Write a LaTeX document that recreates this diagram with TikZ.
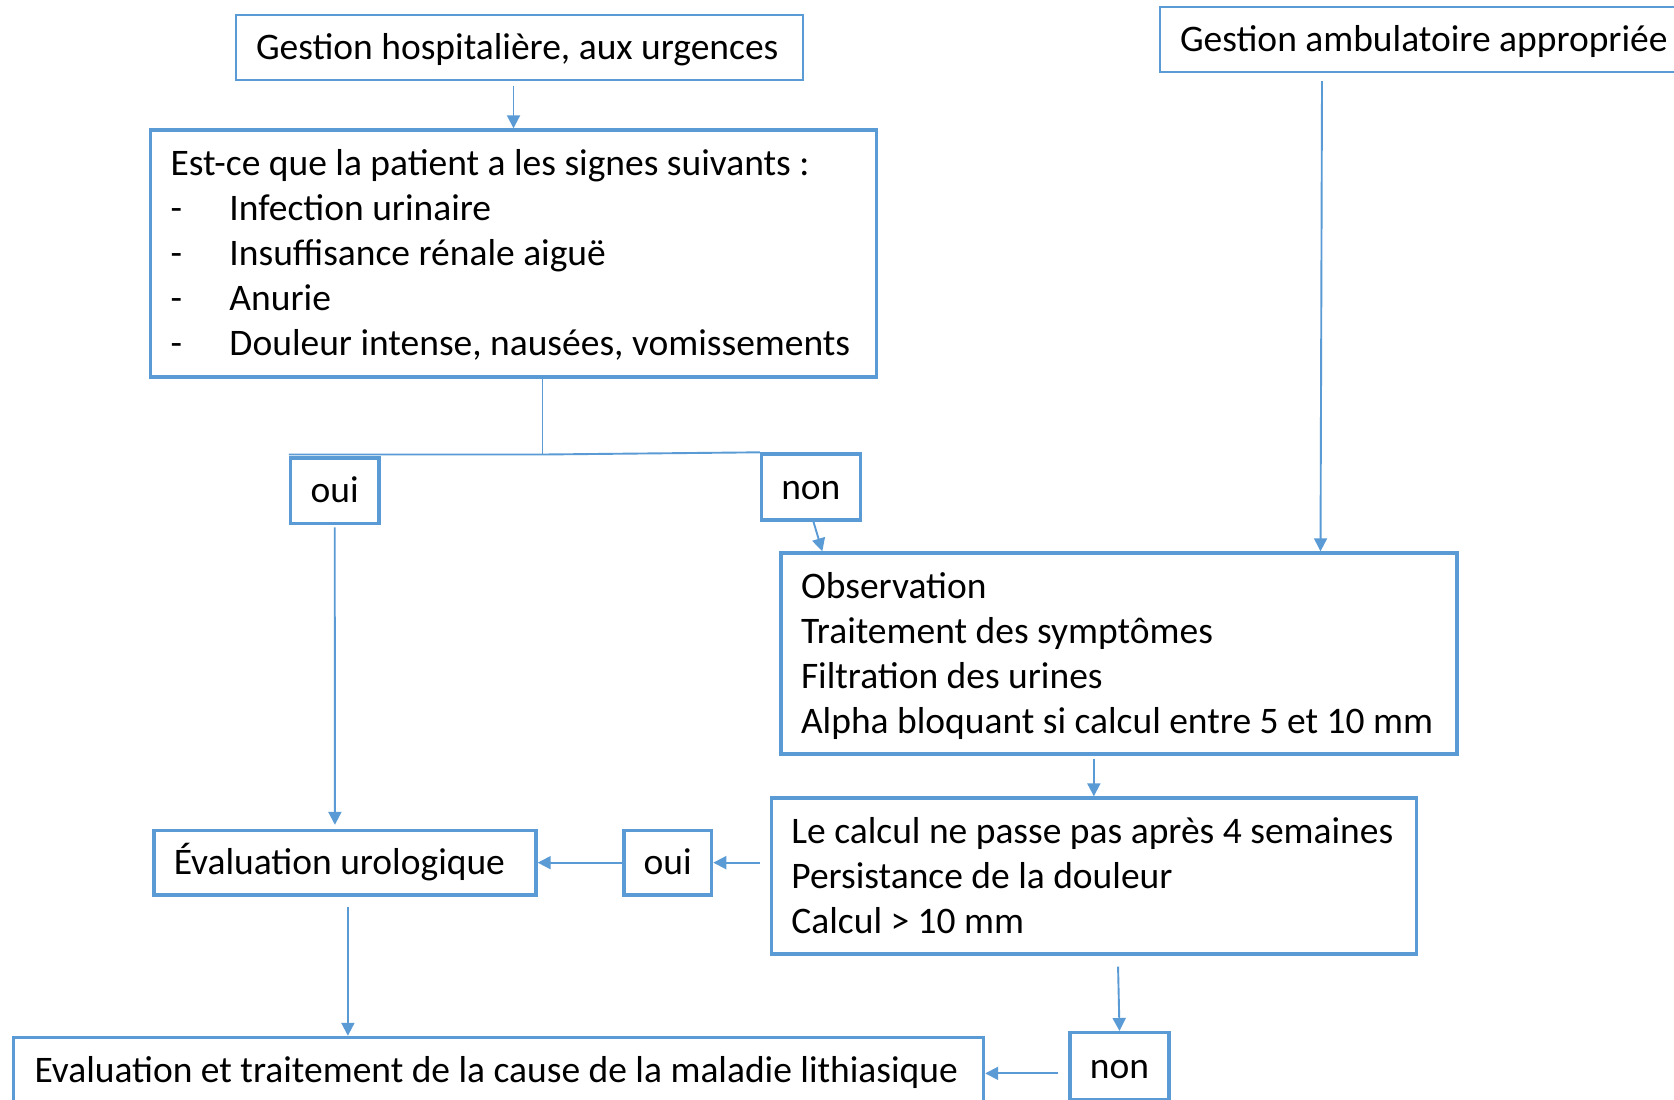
\documentclass[tikz,border=0pt]{standalone}
\usepackage{fontspec}
\setmainfont{Carlito}
\usetikzlibrary{arrows.meta,calc}
\definecolor{bl}{HTML}{5B9BD5}
\newcommand\myline[1]{\mbox{\smash{#1}}}
\newcommand\nsp{\spaceskip=0pt\relax\xspaceskip=0pt\relax}
\begin{document}
\begin{tikzpicture}[x=0.5pt,y=-0.5pt,
  every node/.style={font=\fontsize{18.75pt}{22.5pt}\selectfont, text=black},
  boxthin/.style={draw=bl, line width=1pt, rectangle, inner sep=0pt},
  boxthick/.style={draw=bl, line width=1.7pt, rectangle, inner sep=0pt},
  one/.style={text height=12.07pt, text depth=0pt},
  multi/.style={align=left},
  conn/.style={draw=bl, line width=0.95pt},
  arr/.style={conn, -{Triangle[width=6.5pt,length=6.5pt]}},
]
\useasboundingbox (0,0) rectangle (1674,1099);
\clip (0,0) rectangle (1674,1099);
\fill[white] (0,0) rectangle (1674,1099);

% nodes
\node[boxthin, one, multi, minimum width=283.5pt, minimum height=32.5pt, text width=263.5pt] (h1) at (519.5,47.5) {\nsp\mbox{Gestion hospitalière, aux urgences}};
\node[boxthin, one, multi, minimum width=263pt, minimum height=32.5pt, text width=243pt] (amb) at (1423,39) {\nsp\mbox{Gestion ambulatoire appropriée}};
\node[boxthick, multi, minimum width=363pt, minimum height=123.5pt, text width=343pt] (q) at (513.5,253.5)
  {\nsp\rule{0pt}{12.07pt}\myline{Est-ce que la patient a les signes suivants :}\\
   \myline{\makebox[29.5pt][l]{-}Infection urinaire}\\
   \myline{\makebox[29.5pt][l]{-}Insuffisance rénale aiguë}\\
   \myline{\makebox[29.5pt][l]{-}Anurie}\\
   \myline{\makebox[29.5pt][l]{-}Douleur intense, nausées, vomissements}};
\node[boxthick, one, minimum width=44.25pt, minimum height=32.85pt] (oui1) at (334.75,490.85) {oui};
\node[boxthick, one, minimum width=49.35pt, minimum height=33pt] (non1) at (810.85,487) {non};
\node[boxthick, multi, minimum width=337.9pt, minimum height=100.5pt, text width=317.9pt] (obs) at (1118.9,653.5)
  {\nsp\rule{0pt}{12.07pt}\myline{Observation}\\
   \myline{Traitement des symptômes}\\
   \myline{Filtration des urines}\\
   \myline{Alpha bloquant si calcul entre 5 et 10 mm}};
\node[boxthick, multi, minimum width=322.45pt, minimum height=78pt, text width=302.45pt] (calc) at (1093.85,876)
  {\nsp\rule{0pt}{12.07pt}\myline{Le calcul ne passe pas après 4 semaines}\\
   \myline{Persistance de la douleur}\\
   \myline{Calcul > 10 mm}};
\node[boxthick, one, multi, minimum width=191.1pt, minimum height=32.15pt, text width=171.1pt] (eval) at (344.9,862.65) {\nsp\mbox{Évaluation urologique}};
\node[boxthick, one, minimum width=43.9pt, minimum height=32.15pt] (oui2) at (667.7,862.65) {oui};
\node[boxthick, one, multi, minimum width=485pt, minimum height=32.5pt, text width=464pt] (bot) at (498.5,1070) {\nsp\mbox{Evaluation et traitement de la cause de la maladie lithiasique}};
\node[boxthick, one, minimum width=49.5pt, minimum height=33.65pt] (non2) at (1119.5,1066.35) {non};

% connectors
\draw[arr, shorten <=2.5pt] (h1.south -| q.north) -- (q.north);
\draw[arr] ([xshift=-50.5pt,yshift=-4.25pt]amb.south) -- ([xshift=100.8pt]obs.north);
\coordinate (j) at (542.5,454.5);
\draw[conn] ([xshift=14.5pt]q.south) -- (j);
\draw[conn] (oui1.west |- j) -- (j) -- (non1.north west);
\draw[arr] ([xshift=1.3pt]non1.south) -- ([xshift=21.5pt]obs.north west);
\draw[arr, shorten >=2pt] ([yshift=-1pt]oui1.south) -- ([xshift=-5pt]eval.north);
\draw[arr, shorten <=1.5pt] (obs.south -| calc.north) -- (calc.north);
\draw[arr, shorten <=5pt] (oui2.east -| calc.west) -- (oui2.east);
\draw[arr] (oui2.west) -- (eval.east);
\draw[arr, shorten <=5pt] ([xshift=1.5pt]eval.south) -- ([xshift=1.5pt]eval.south |- bot.north);
\draw[arr] ([xshift=12.1pt,yshift=-5.5pt]calc.south) -- (non2.north);
\draw[arr, shorten <=5pt] ([yshift=-3.5pt]non2.west) -- ([yshift=-3.5pt]non2.west -| bot.east);
\end{tikzpicture}
\end{document}
